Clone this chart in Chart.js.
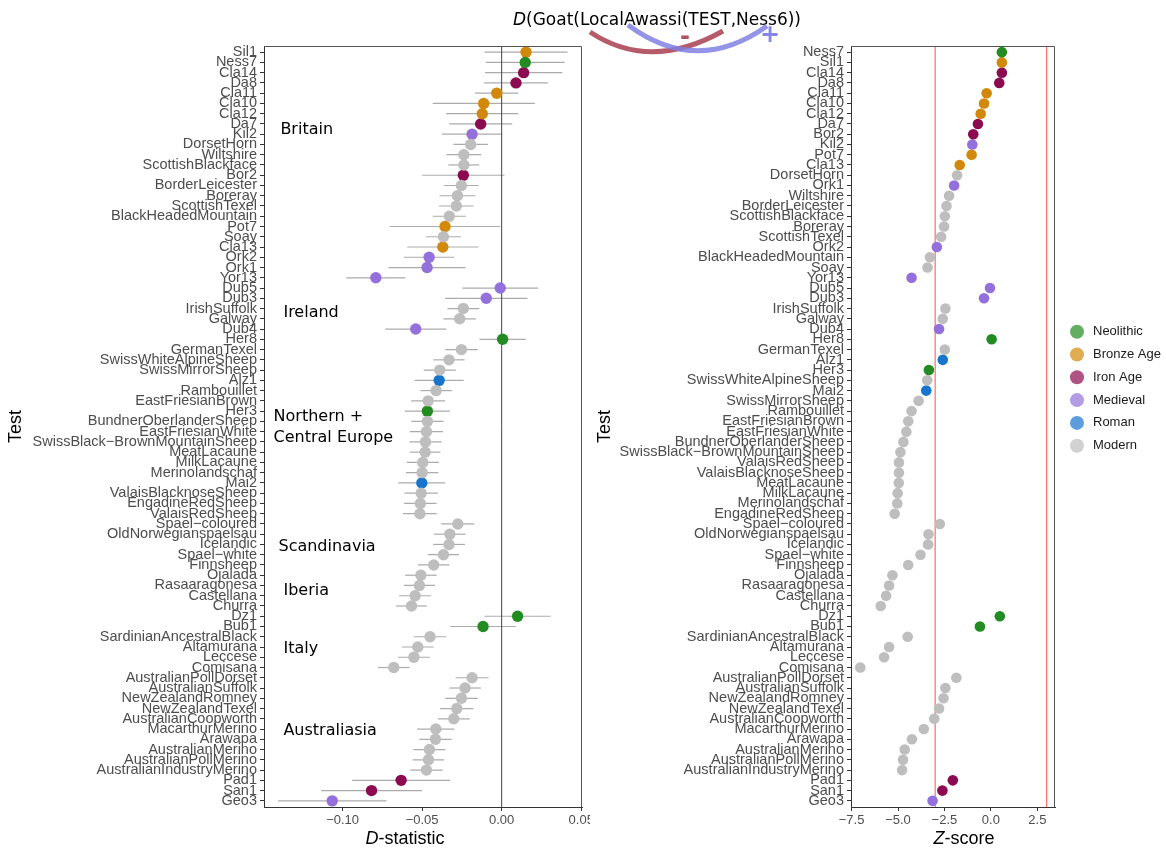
<!DOCTYPE html>
<html>
<head>
<meta charset="utf-8">
<script src="https://cdn.jsdelivr.net/npm/chart.js@4.4.1/dist/chart.umd.min.js"></script>
<style>
  html, body { margin: 0; padding: 0; background: #fff; width: 1166px; height: 850px; overflow: hidden; }
  #wrap { position: relative; width: 1166px; height: 850px; }
  canvas { position: absolute; top: 0; }
  #cD { left: 0; }
  #cZ { left: 590px; }
  #deco { left: 0; pointer-events: none; }
</style>
</head>
<body>
<div id="wrap">
  <canvas id="cD" width="590" height="850"></canvas>
  <canvas id="cZ" width="576" height="850"></canvas>
  <canvas id="deco" width="1166" height="850"></canvas>
</div>
<script>
// ---- D-statistic panel: samples in plotting order, D values and their standard errors ----
const dNames = ['Sil1','Ness7','Cla14','Da8','Cla11','Cla10','Cla12','Da7','Kil2','DorsetHorn',
  'Wiltshire','ScottishBlackface','Bor2','BorderLeicester','Boreray','ScottishTexel','BlackHeadedMountain',
  'Pot7','Soay','Cla13','Ork2','Ork1','Yor13','Dub5','Dub3','IrishSuffolk','Galway','Dub4','Her8',
  'GermanTexel','SwissWhiteAlpineSheep','SwissMirrorSheep','Alz1','Rambouillet','EastFriesianBrown','Her3',
  'BundnerOberlanderSheep','EastFriesianWhite','SwissBlack\u2212BrownMountainSheep','MeatLacaune','MilkLacaune',
  'Merinolandschaf','Mai2','ValaisBlacknoseSheep','EngadineRedSheep','ValaisRedSheep','Spael\u2212coloured',
  'OldNorwegianspaelsau','Icelandic','Spael\u2212white','Finnsheep','Ojalada','Rasaaragonesa','Castellana',
  'Churra','Dz1','Bub1','SardinianAncestralBlack','Altamurana','Leccese','Comisana','AustralianPollDorset',
  'AustralianSuffolk','NewZealandRomney','NewZealandTexel','AustralianCoopworth','MacarthurMerino','Arawapa',
  'AustralianMerino','AustralianPollMerino','AustralianIndustryMerino','Pad1','San1','Geo3'];

const dValues = [0.0153,0.0148,0.0138,0.0090,-0.0031,-0.0113,-0.0122,-0.0132,-0.0186,-0.0195,
  -0.0238,-0.0238,-0.0241,-0.0253,-0.0278,-0.0285,-0.0329,
  -0.0356,-0.0366,-0.0370,-0.0456,-0.0469,-0.0791,-0.0009,-0.0097,-0.0241,-0.0264,-0.0540,0.0006,
  -0.0253,-0.0331,-0.0389,-0.0393,-0.0412,-0.0462,-0.0467,
  -0.0467,-0.0473,-0.0479,-0.0481,-0.0496,
  -0.0500,-0.0502,-0.0506,-0.0511,-0.0514,-0.0276,
  -0.0326,-0.0331,-0.0366,-0.0427,-0.0508,-0.0517,-0.0544,
  -0.0567,0.0100,-0.0117,-0.0450,-0.0527,-0.0552,-0.0678,-0.0186,
  -0.0230,-0.0253,-0.0282,-0.0301,-0.0414,-0.0416,
  -0.0454,-0.0460,-0.0473,-0.0632,-0.0818,-0.1065];

const dErr = [0.0261,0.0248,0.0243,0.0200,0.0136,0.0321,0.0227,0.0198,0.0189,0.0108,
  0.0109,0.0097,0.0259,0.0108,0.0113,0.0109,0.0104,
  0.0348,0.0109,0.0224,0.0158,0.0242,0.0186,0.0238,0.0259,0.0100,0.0102,0.0192,0.0146,
  0.0102,0.0098,0.0101,0.0154,0.0099,0.0107,0.0142,
  0.0101,0.0104,0.0101,0.0096,0.0101,
  0.0102,0.0147,0.0105,0.0102,0.0106,0.0104,
  0.0099,0.0100,0.0098,0.0099,0.0099,0.0098,0.0100,
  0.0097,0.0207,0.0206,0.0102,0.0100,0.0100,0.0099,0.0104,
  0.0099,0.0102,0.0104,0.0100,0.0117,0.0101,
  0.0100,0.0099,0.0102,0.0308,0.0317,0.0341];

// ---- Z-score panel: samples in plotting order and their Z-scores ----
const zNames = ['Ness7','Sil1','Cla14','Da8','Cla11','Cla10','Cla12','Da7','Bor2','Kil2','Pot7','Cla13',
  'DorsetHorn','Ork1','Wiltshire','BorderLeicester','ScottishBlackface','Boreray','ScottishTexel','Ork2',
  'BlackHeadedMountain','Soay','Yor13','Dub5','Dub3','IrishSuffolk','Galway','Dub4','Her8','GermanTexel',
  'Alz1','Her3','SwissWhiteAlpineSheep','Mai2','SwissMirrorSheep','Rambouillet','EastFriesianBrown',
  'EastFriesianWhite','BundnerOberlanderSheep','SwissBlack\u2212BrownMountainSheep','ValaisRedSheep',
  'ValaisBlacknoseSheep','MeatLacaune','MilkLacaune','Merinolandschaf','EngadineRedSheep','Spael\u2212coloured',
  'OldNorwegianspaelsau','Icelandic','Spael\u2212white','Finnsheep','Ojalada','Rasaaragonesa','Castellana',
  'Churra','Dz1','Bub1','SardinianAncestralBlack','Altamurana','Leccese','Comisana','AustralianPollDorset',
  'AustralianSuffolk','NewZealandRomney','NewZealandTexel','AustralianCoopworth','MacarthurMerino','Arawapa',
  'AustralianMerino','AustralianPollMerino','AustralianIndustryMerino','Pad1','San1','Geo3'];

const zValues = [0.59,0.59,0.59,0.45,-0.23,-0.37,-0.55,-0.70,-0.95,-1.00,-1.04,-1.68,
  -1.82,-1.98,-2.25,-2.39,-2.48,-2.52,-2.68,-2.91,
  -3.28,-3.41,-4.27,-0.05,-0.37,-2.45,-2.59,-2.79,0.04,-2.48,
  -2.59,-3.34,-3.43,-3.48,-3.89,-4.27,-4.45,
  -4.55,-4.71,-4.87,-4.95,
  -4.95,-4.96,-5.02,-5.04,-5.18,-2.75,
  -3.36,-3.38,-3.79,-4.45,-5.30,-5.48,-5.64,
  -5.93,0.48,-0.59,-4.48,-5.48,-5.75,-7.03,-1.86,
  -2.45,-2.55,-2.79,-3.05,-3.61,-4.25,
  -4.64,-4.73,-4.78,-2.05,-2.61,-3.14];

// ---- ancient sample periods (everything else is a modern breed) ----
const neolithic = ['Ness7','Her8','Her3','Dz1','Bub1'];
const bronzeAge = ['Sil1','Cla11','Cla10','Cla12','Pot7','Cla13'];
const ironAge   = ['Cla14','Da8','Da7','Bor2','Pad1','San1'];
const medieval  = ['Kil2','Ork2','Ork1','Yor13','Dub5','Dub3','Dub4','Geo3'];
const roman     = ['Alz1','Mai2'];
const periodNames  = ['Neolithic','Bronze Age','Iron Age','Medieval','Roman','Modern'];
const periodColors = ['#228B22','#D2880A','#8B0A50','#9370DB','#1874CD','#BEBEBE'];

// ---- tick values ----
const dTicks = [-0.10, -0.05, 0.00, 0.05];
const zTicks = [-7.5, -5.0, -2.5, 0.0, 2.5];
const zThresholds = [-3, 3];

// ---- region annotations on the D panel (data coordinates: D value, row index) ----
const regionLabels = [
  { text: 'Britain',        x: -0.1391, row: 7.62 },
  { text: 'Ireland',        x: -0.1372, row: 25.44 },
  { text: 'Northern +',     x: -0.1434, row: 35.54 },
  { text: 'Central Europe', x: -0.1434, row: 37.6 },
  { text: 'Scandinavia',    x: -0.1403, row: 48.2 },
  { text: 'Iberia',         x: -0.1372, row: 52.5 },
  { text: 'Italy',          x: -0.1372, row: 58.2 },
  { text: 'Australiasia',   x: -0.1372, row: 66.2 }
];

const SANS = '"Liberation Sans", Arial, Helvetica, sans-serif';
const DEJAVU = '"DejaVu Sans", sans-serif';
Chart.defaults.font.family = SANS;

function periodOf(name) {
  if (neolithic.includes(name)) return 0;
  if (bronzeAge.includes(name)) return 1;
  if (ironAge.includes(name)) return 2;
  if (medieval.includes(name)) return 3;
  if (roman.includes(name)) return 4;
  return 5;
}

function fmtTick(v, digits) {
  const s = Math.abs(v).toFixed(digits);
  return (v < -1e-12 ? '\u2212' : '') + s;
}

function buildDatasets(names, values, radius) {
  // Modern drawn first so the ancient samples sit on top
  const order = [5, 0, 1, 2, 3, 4];
  return order.map(p => ({
    label: periodNames[p],
    data: names.map((n, i) => ({ x: values[i], y: i, p: periodOf(n) }))
               .filter(d => d.p === p)
               .map(d => ({ x: d.x, y: d.y })),
    backgroundColor: periodColors[p],
    borderWidth: 0,
    pointRadius: radius,
    pointHoverRadius: radius,
    periodIndex: p
  }));
}

function yScale(names, width, titlePad) {
  return {
    type: 'linear',
    reverse: true,
    min: -0.6,
    max: names.length - 1 + 0.6,
    afterBuildTicks: s => { s.ticks = names.map((_, i) => ({ value: i })); },
    afterFit: s => { s.width = width; s.paddingTop = 0; s.paddingBottom = 0; },
    ticks: {
      autoSkip: false, padding: 3, color: '#4d4d4d',
      font: { family: SANS, size: 14.5 },
      callback: v => names[v]
    },
    grid: { drawOnChartArea: false, drawTicks: true, tickLength: 4, color: '#333', tickColor: '#333', lineWidth: 1 },
    border: { display: true, color: '#333', width: 1 },
    title: { display: true, text: 'Test', color: '#000', font: { family: SANS, size: 18 }, padding: { top: titlePad, bottom: 0 } }
  };
}

function xScale(min, max, ticks, digits) {
  return {
    type: 'linear',
    min: min, max: max,
    afterBuildTicks: s => { s.ticks = ticks.map(v => ({ value: v })); },
    afterFit: s => { s.height = 43; s.paddingLeft = 0; s.paddingRight = 0; },
    ticks: {
      autoSkip: false, maxRotation: 0, padding: 2, color: '#4d4d4d',
      font: { family: SANS, size: 13 },
      callback: v => fmtTick(v, digits)
    },
    grid: { drawOnChartArea: false, drawTicks: true, tickLength: 4, color: '#333', tickColor: '#333', lineWidth: 1 },
    border: { display: true, color: '#333', width: 1 }
  };
}

// axis title with an italic leading letter, e.g. "D-statistic"
function drawAxisTitle(ctx, italicPart, rest, cx, cy) {
  ctx.save();
  ctx.fillStyle = '#000';
  ctx.textBaseline = 'middle';
  ctx.textAlign = 'left';
  ctx.font = 'italic 18px ' + SANS;
  const w1 = ctx.measureText(italicPart).width;
  ctx.font = '18px ' + SANS;
  const w2 = ctx.measureText(rest).width;
  let x0 = cx - (w1 + w2) / 2;
  ctx.font = 'italic 18px ' + SANS;
  ctx.fillText(italicPart, x0, cy);
  ctx.font = '18px ' + SANS;
  ctx.fillText(rest, x0 + w1, cy);
  ctx.restore();
}

function strokePanel(ctx, a) {
  ctx.save();
  ctx.strokeStyle = '#555';
  ctx.lineWidth = 1;
  ctx.beginPath();
  ctx.moveTo(a.left, a.top + 0.5);
  ctx.lineTo(a.right - 0.5, a.top + 0.5);
  ctx.lineTo(a.right - 0.5, a.bottom);
  ctx.stroke();
  ctx.restore();
}

const dPanelPlugin = {
  id: 'dPanel',
  beforeDatasetsDraw(chart) {
    const { ctx, chartArea: a, scales: { x, y } } = chart;
    ctx.save();
    ctx.beginPath();
    ctx.rect(a.left, a.top, a.right - a.left, a.bottom - a.top);
    ctx.clip();
    // horizontal error bars (D +/- SE)
    ctx.strokeStyle = '#ababab';
    ctx.lineWidth = 1.2;
    dValues.forEach((v, i) => {
      const py = y.getPixelForValue(i);
      ctx.beginPath();
      ctx.moveTo(x.getPixelForValue(v - dErr[i]), py);
      ctx.lineTo(x.getPixelForValue(v + dErr[i]), py);
      ctx.stroke();
    });
    // reference line at D = 0
    const zx = x.getPixelForValue(0);
    ctx.strokeStyle = '#444';
    ctx.lineWidth = 1;
    ctx.beginPath();
    ctx.moveTo(zx, a.top);
    ctx.lineTo(zx, a.bottom);
    ctx.stroke();
    ctx.restore();
  },
  afterDraw(chart) {
    const { ctx, chartArea: a, scales: { x, y } } = chart;
    strokePanel(ctx, a);
    ctx.save();
    ctx.fillStyle = '#000';
    ctx.font = '16px ' + DEJAVU;
    ctx.textAlign = 'left';
    ctx.textBaseline = 'middle';
    regionLabels.forEach(r => ctx.fillText(r.text, x.getPixelForValue(r.x), y.getPixelForValue(r.row)));
    ctx.restore();
    drawAxisTitle(ctx, 'D', '-statistic', 405, 839);
  }
};

const zPanelPlugin = {
  id: 'zPanel',
  beforeDatasetsDraw(chart) {
    const { ctx, chartArea: a, scales: { x } } = chart;
    ctx.save();
    ctx.strokeStyle = 'rgba(255,70,70,0.8)';
    ctx.lineWidth = 1.2;
    zThresholds.forEach(t => {
      const px = x.getPixelForValue(t);
      ctx.beginPath();
      ctx.moveTo(px, a.top);
      ctx.lineTo(px, a.bottom);
      ctx.stroke();
    });
    ctx.restore();
  },
  afterDraw(chart) {
    const { ctx, chartArea: a } = chart;
    strokePanel(ctx, a);
    drawAxisTitle(ctx, 'Z', '-score', 964 - 590, 839);
    // legend of sample periods
    const sets = chart.data.datasets.slice().sort((p, q) => p.periodIndex - q.periodIndex);
    ctx.save();
    ctx.font = '13px ' + SANS;
    ctx.textAlign = 'left';
    ctx.textBaseline = 'middle';
    sets.forEach((ds, i) => {
      const cy = 331.7 + i * 22.8;
      ctx.globalAlpha = 0.7;
      ctx.fillStyle = ds.backgroundColor;
      ctx.beginPath();
      ctx.arc(a.right + 22, cy, 7, 0, Math.PI * 2);
      ctx.fill();
      ctx.globalAlpha = 1;
      ctx.fillStyle = '#1a1a1a';
      ctx.fillText(ds.label, a.right + 38, cy);
    });
    ctx.restore();
  }
};

const common = {
  responsive: false,
  animation: false,
  events: [],
  plugins: { legend: { display: false }, tooltip: { enabled: false } }
};

new Chart(document.getElementById('cD'), {
  type: 'scatter',
  data: { datasets: buildDatasets(dNames, dValues, 5.7) },
  options: Object.assign({}, common, {
    layout: { padding: { left: 0, right: 8, top: 46, bottom: 0 } },
    scales: {
      x: xScale(-0.1494, 0.0505, dTicks, 2),
      y: yScale(dNames, 264, 5)
    }
  }),
  plugins: [dPanelPlugin]
});

new Chart(document.getElementById('cZ'), {
  type: 'scatter',
  data: { datasets: buildDatasets(zNames, zValues, 5.3) },
  options: Object.assign({}, common, {
    layout: { padding: { left: 0, right: 111, top: 46, bottom: 0 } },
    scales: {
      x: xScale(-7.53, 3.45, zTicks, 1),
      y: yScale(zNames, 261, 4)
    }
  }),
  plugins: [zPanelPlugin]
});

// ---- figure title with the D-statistic arcs ----
(function drawTitle() {
  const ctx = document.getElementById('deco').getContext('2d');
  const rightEdge = 801, base = 25;
  const rest = '(Goat(LocalAwassi(TEST,Ness6))';
  ctx.font = 'italic 17px ' + DEJAVU;
  const wD = ctx.measureText('D').width;
  ctx.font = '17px ' + DEJAVU;
  const wR = ctx.measureText(rest).width;
  const x0 = rightEdge - wD - wR;
  ctx.fillStyle = '#000';
  ctx.textBaseline = 'alphabetic';
  ctx.font = 'italic 17px ' + DEJAVU;
  ctx.fillText('D', x0, base);
  ctx.font = '17px ' + DEJAVU;
  ctx.fillText(rest, x0 + wD, base);

  ctx.lineCap = 'butt';
  ctx.lineWidth = 5;
  ctx.strokeStyle = 'rgba(168,62,80,0.85)';
  ctx.beginPath();
  ctx.moveTo(590, 32);
  ctx.quadraticCurveTo(650, 72, 723, 31);
  ctx.stroke();
  ctx.strokeStyle = 'rgba(128,128,228,0.85)';
  ctx.beginPath();
  ctx.moveTo(628, 25);
  ctx.quadraticCurveTo(697, 76, 767, 26);
  ctx.stroke();

  ctx.textAlign = 'center';
  ctx.textBaseline = 'middle';
  ctx.font = 'bold 24px ' + DEJAVU;
  ctx.fillStyle = 'rgba(168,62,80,0.9)';
  ctx.fillText('-', 685, 38);
  ctx.fillStyle = 'rgba(128,128,228,0.95)';
  ctx.fillText('+', 770, 36);
})();
</script>
</body>
</html>
